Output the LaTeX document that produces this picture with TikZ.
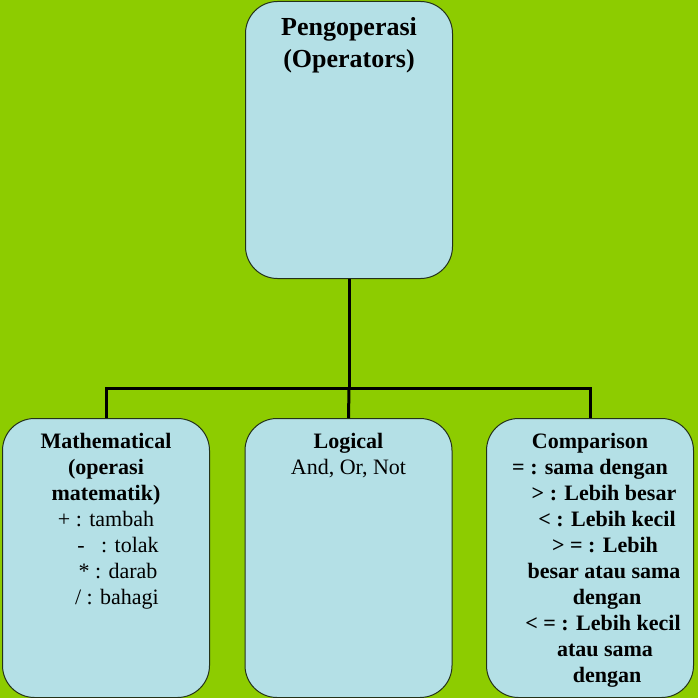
\documentclass[tikz,border=0pt]{standalone}
\usepackage{fontspec}
\setmainfont{Liberation Serif}
\usepackage{tikz}
\usetikzlibrary{positioning}
\definecolor{bggreen}{RGB}{141,204,0}
\definecolor{boxblue}{RGB}{180,224,230}
\definecolor{boxline}{RGB}{35,50,25}

\begin{document}
\begin{tikzpicture}[x=1pt,y=1pt,
  opbox/.style={draw=boxline,fill=boxblue,line width=1pt,rounded corners=32pt,
    minimum width=207pt,inner sep=0pt,anchor=north},
  optext/.style={align=center,inner sep=0pt,anchor=north,font=\fontsize{22}{26}\selectfont},
  link/.style={line width=3pt,black}]
\useasboundingbox (0,0) rectangle (698,-698);
\fill[bggreen] (0,0) rectangle (698,-698);
\node[opbox,minimum height=277pt] (op)       at (349,-1)   {};
\node[opbox,minimum height=279pt] (op_math)  at (106,-418) {};
\node[opbox,minimum height=279pt] (op_logic) at (348.5,-418) {};
\node[opbox,minimum height=279pt] (op_comp)  at (590,-418) {};
\node[optext,font=\fontsize{26}{32}\selectfont\bfseries,below=16pt of op.north] (t_op)
  {Pengoperasi\\(Operators)};
\node[optext,below=15pt of op_math.north] (t_math)
  {\textbf{Mathematical}\\\textbf{(operasi}\\\textbf{matematik)}\\+ : tambah\\
   \hspace*{24pt}-\ \ \ : tolak\\\hspace*{24pt}* : darab\\\hspace*{22pt}/ : bahagi};
\node[optext,below=15pt of op_logic.north] (t_logic)
  {\textbf{Logical}\\And, Or, Not};
\node[optext,font=\fontsize{22}{26}\selectfont\bfseries,below=15pt of op_comp.north] (t_comp)
  {Comparison\\= : sama dengan\\\hspace*{28pt}> : Lebih besar\\\hspace*{34pt}< : Lebih kecil\\
   \hspace*{30pt}> = : Lebih\\\hspace*{28pt}besar atau sama\\\hspace*{34pt}dengan\\
   \hspace*{26pt}< = : Lebih kecil\\\hspace*{30pt}atau sama\\\hspace*{34pt}dengan};
\coordinate (bus) at (op.south |- 0,-388);
\draw[link] (op.south) -- (bus);
\draw[link] (op_math.north) |- (bus) -| (op_comp.north);
\draw[link] (bus) -- (op_logic.north);
\end{tikzpicture}
\end{document}
